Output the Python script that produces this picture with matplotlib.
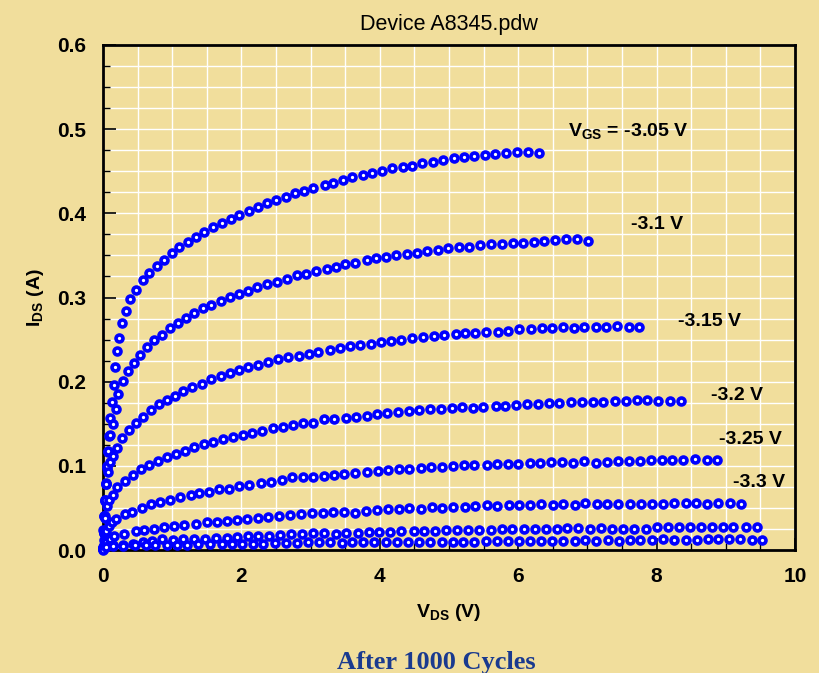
import matplotlib
matplotlib.use("Agg")
import matplotlib.pyplot as plt
from matplotlib.ticker import MultipleLocator

# I-V sweeps, (V_DS, I_DS) pairs per gate voltage
vgs_labels = ["V$_\\mathbf{GS}$ = -3.05 V", "-3.1 V", "-3.15 V", "-3.2 V", "-3.25 V", "-3.3 V"]
label_pos = [(6.72, 0.497), (7.63, 0.387), (8.31, 0.272), (8.79, 0.184), (8.9, 0.131), (9.1, 0.080)]

curve_305 = [(0.0, 0.003), (0.005, 0.024), (0.014, 0.040), (0.029, 0.058), (0.043, 0.078), (0.062, 0.097),
             (0.077, 0.117), (0.087, 0.136), (0.101, 0.157), (0.135, 0.176), (0.159, 0.196), (0.173, 0.218),
             (0.207, 0.236), (0.231, 0.252), (0.279, 0.270), (0.328, 0.284), (0.39, 0.298), (0.472, 0.309),
             (0.583, 0.321), (0.665, 0.329), (0.776, 0.338), (0.88, 0.345), (0.99, 0.3525), (1.103, 0.3596),
             (1.224, 0.3663), (1.344, 0.3722), (1.464, 0.3775), (1.594, 0.3834), (1.715, 0.3881), (1.85, 0.3936),
             (1.97, 0.3977), (2.11, 0.4028), (2.244, 0.4079), (2.374, 0.4119), (2.5, 0.4158), (2.645, 0.4198),
             (2.775, 0.4238), (2.909, 0.4269), (3.039, 0.4297), (3.208, 0.4337), (3.328, 0.4364), (3.473, 0.4396),
             (3.603, 0.4428), (3.762, 0.4455), (3.883, 0.4476), (4.027, 0.4506), (4.181, 0.4535), (4.331, 0.4554),
             (4.47, 0.4566), (4.614, 0.4594), (4.773, 0.4613), (4.918, 0.4634), (5.072, 0.4654), (5.217, 0.4673),
             (5.366, 0.4685), (5.52, 0.4696), (5.669, 0.4705), (5.819, 0.4713), (5.978, 0.4725), (6.142, 0.4725),
             (6.305, 0.4713)]

curve_310 = [(0.0, 0.002), (0.008, 0.020), (0.018, 0.040), (0.030, 0.060), (0.045, 0.080), (0.060, 0.100),
             (0.075, 0.118), (0.101, 0.137), (0.149, 0.150), (0.183, 0.167), (0.221, 0.185), (0.285, 0.201),
             (0.357, 0.213), (0.448, 0.222), (0.535, 0.232), (0.636, 0.241), (0.741, 0.2495), (0.848, 0.2554),
             (0.968, 0.2640), (1.079, 0.270), (1.199, 0.276), (1.315, 0.282), (1.44, 0.287), (1.561, 0.291),
             (1.70, 0.296), (1.835, 0.301), (1.97, 0.304), (2.09, 0.308), (2.23, 0.312), (2.374, 0.3157),
             (2.51, 0.3188), (2.655, 0.322), (2.808, 0.3264), (2.934, 0.3283), (3.078, 0.3315), (3.233, 0.3335),
             (3.363, 0.3366), (3.497, 0.3394), (3.642, 0.3413), (3.811, 0.3445), (3.945, 0.3466), (4.090, 0.3485),
             (4.234, 0.3505), (4.397, 0.3513), (4.533, 0.3532), (4.678, 0.3552), (4.837, 0.3564), (4.990, 0.3584),
             (5.145, 0.3596), (5.293, 0.3603), (5.448, 0.3624), (5.607, 0.3632), (5.766, 0.3632), (5.920, 0.3651),
             (6.065, 0.3651), (6.228, 0.3663), (6.373, 0.3671), (6.532, 0.3680), (6.686, 0.3691), (6.845, 0.3691),
             (7.013, 0.3675)]

curve_315 = [(0.0, 0.002), (0.010, 0.020), (0.022, 0.040), (0.035, 0.060), (0.050, 0.078), (0.070, 0.093),
             (0.100, 0.104), (0.140, 0.1117), (0.198, 0.1216), (0.279, 0.1327), (0.380, 0.1426), (0.477, 0.1505),
             (0.583, 0.1584), (0.694, 0.1663), (0.809, 0.1731), (0.920, 0.1782), (1.045, 0.1833), (1.160, 0.1893),
             (1.290, 0.1940), (1.426, 0.1972), (1.560, 0.2028), (1.700, 0.2067), (1.835, 0.2107), (1.970, 0.2139),
             (2.100, 0.2171), (2.244, 0.2198), (2.389, 0.2230), (2.524, 0.2266), (2.669, 0.2290), (2.828, 0.2308),
             (2.980, 0.2329), (3.111, 0.2356), (3.280, 0.2376), (3.425, 0.2396), (3.569, 0.2424), (3.714, 0.2436),
             (3.873, 0.2447), (4.013, 0.2468), (4.162, 0.2487), (4.306, 0.2495), (4.470, 0.2522), (4.620, 0.2534),
             (4.783, 0.2542), (4.923, 0.2554), (5.101, 0.2563), (5.231, 0.2575), (5.376, 0.2575), (5.535, 0.2586),
             (5.712, 0.2594), (5.857, 0.2602), (6.012, 0.2620), (6.181, 0.2628), (6.340, 0.2635), (6.484, 0.2640),
             (6.652, 0.2646), (6.806, 0.2634), (6.955, 0.2646), (7.120, 0.2646), (7.269, 0.2653), (7.432, 0.2665),
             (7.601, 0.2653), (7.746, 0.2653)]

curve_320 = [(0.0, 0.002), (0.012, 0.020), (0.030, 0.038), (0.055, 0.052), (0.090, 0.060), (0.140, 0.0653),
             (0.207, 0.0752), (0.318, 0.0823), (0.429, 0.0891), (0.549, 0.0959), (0.669, 0.1010), (0.799, 0.1061),
             (0.929, 0.1101), (1.055, 0.1141), (1.185, 0.1180), (1.319, 0.1220), (1.460, 0.1256), (1.594, 0.1287),
             (1.730, 0.1315), (1.883, 0.1346), (2.019, 0.1366), (2.158, 0.1394), (2.302, 0.1417), (2.452, 0.1446),
             (2.597, 0.1465), (2.750, 0.1481), (2.895, 0.1505), (3.039, 0.1513), (3.198, 0.1553), (3.338, 0.1553),
             (3.512, 0.1572), (3.652, 0.1584), (3.811, 0.1596), (3.964, 0.1616), (4.100, 0.1624), (4.259, 0.1636),
             (4.422, 0.1651), (4.571, 0.1660), (4.725, 0.1675), (4.884, 0.1675), (5.043, 0.1683), (5.192, 0.1695),
             (5.351, 0.1691), (5.496, 0.1703), (5.679, 0.1714), (5.809, 0.1714), (5.968, 0.1723), (6.131, 0.1735),
             (6.291, 0.1735), (6.445, 0.1743), (6.594, 0.1743), (6.759, 0.1755), (6.926, 0.1755), (7.085, 0.1762),
             (7.230, 0.1762), (7.399, 0.1770), (7.558, 0.1770), (7.712, 0.1782), (7.866, 0.1782), (8.025, 0.1770),
             (8.194, 0.1770), (8.348, 0.1770)]

curve_325 = [(0.0, 0.001), (0.015, 0.012), (0.040, 0.022), (0.080, 0.029), (0.125, 0.033), (0.183, 0.0368),
             (0.318, 0.0428), (0.423, 0.0455), (0.559, 0.0503), (0.689, 0.0547), (0.824, 0.0574), (0.968, 0.0594),
             (1.113, 0.0633), (1.267, 0.0653), (1.392, 0.0674), (1.536, 0.0693), (1.681, 0.0721), (1.825, 0.0728),
             (1.970, 0.0760), (2.114, 0.0772), (2.283, 0.0792), (2.423, 0.0811), (2.582, 0.0832), (2.727, 0.0864),
             (2.886, 0.0864), (3.039, 0.0871), (3.198, 0.0879), (3.338, 0.0891), (3.487, 0.0903), (3.642, 0.0911),
             (3.811, 0.0930), (3.970, 0.0942), (4.123, 0.0950), (4.282, 0.0962), (4.426, 0.0962), (4.591, 0.0971),
             (4.740, 0.0990), (4.903, 0.0982), (5.062, 0.0998), (5.221, 0.1006), (5.366, 0.1013), (5.545, 0.1010),
             (5.689, 0.1018), (5.848, 0.1018), (6.002, 0.1018), (6.171, 0.1034), (6.315, 0.1034), (6.470, 0.1042),
             (6.637, 0.1042), (6.796, 0.1037), (6.951, 0.1057), (7.120, 0.1037), (7.288, 0.1042), (7.447, 0.1057),
             (7.606, 0.1057), (7.760, 0.1057), (7.919, 0.1069), (8.074, 0.1069), (8.227, 0.1069), (8.386, 0.1069),
             (8.555, 0.1081), (8.724, 0.1069), (8.877, 0.1069)]

curve_330 = [(0.0, 0.001), (0.020, 0.006), (0.050, 0.010), (0.100, 0.013), (0.163, 0.0166), (0.308, 0.0190),
             (0.473, 0.0222), (0.592, 0.0238), (0.737, 0.0246), (0.882, 0.0277), (1.026, 0.0285), (1.175, 0.0301),
             (1.340, 0.0309), (1.499, 0.0329), (1.643, 0.0336), (1.788, 0.0348), (1.932, 0.0356), (2.085, 0.0368),
             (2.244, 0.0384), (2.389, 0.0396), (2.548, 0.0408), (2.702, 0.0416), (2.861, 0.0424), (3.016, 0.0443),
             (3.184, 0.0443), (3.319, 0.0455), (3.483, 0.0455), (3.642, 0.0443), (3.800, 0.0463), (3.955, 0.0475),
             (4.114, 0.0483), (4.282, 0.0483), (4.426, 0.0495), (4.591, 0.0487), (4.750, 0.0507), (4.903, 0.0503),
             (5.062, 0.0514), (5.231, 0.0514), (5.376, 0.0526), (5.545, 0.0535), (5.689, 0.0526), (5.872, 0.0535),
             (6.017, 0.0535), (6.171, 0.0535), (6.325, 0.0547), (6.498, 0.0535), (6.652, 0.0547), (6.821, 0.0535),
             (6.965, 0.0555), (7.134, 0.0547), (7.288, 0.0547), (7.447, 0.0547), (7.616, 0.0547), (7.775, 0.0547),
             (7.939, 0.0547), (8.098, 0.0547), (8.256, 0.0562), (8.420, 0.0562), (8.569, 0.0562), (8.733, 0.0547),
             (8.892, 0.0562), (9.061, 0.0562), (9.215, 0.0547)]

curve_335 = [(0.0, 0.001), (0.030, 0.004), (0.149, 0.0059), (0.293, 0.0059), (0.438, 0.0068), (0.583, 0.0099),
             (0.704, 0.0110), (0.848, 0.0127), (1.007, 0.0119), (1.160, 0.0127), (1.319, 0.0127), (1.474, 0.0127),
             (1.633, 0.0139), (1.788, 0.0139), (1.932, 0.0158), (2.091, 0.0166), (2.244, 0.0170), (2.403, 0.0170),
             (2.558, 0.0178), (2.717, 0.0190), (2.871, 0.0190), (3.039, 0.0198), (3.198, 0.0206), (3.363, 0.0190),
             (3.512, 0.0206), (3.680, 0.0206), (3.844, 0.0210), (3.993, 0.0218), (4.147, 0.0218), (4.306, 0.0226),
             (4.494, 0.0226), (4.643, 0.0226), (4.798, 0.0226), (4.957, 0.0238), (5.120, 0.0238), (5.279, 0.0238),
             (5.438, 0.0238), (5.603, 0.0238), (5.761, 0.0246), (5.906, 0.0246), (6.088, 0.0246), (6.243, 0.0246),
             (6.402, 0.0246), (6.556, 0.0246), (6.710, 0.0258), (6.868, 0.0258), (7.038, 0.0250), (7.197, 0.0258),
             (7.360, 0.0250), (7.510, 0.0250), (7.678, 0.0250), (7.847, 0.0250), (8.010, 0.0270), (8.160, 0.0270),
             (8.328, 0.0270), (8.483, 0.0270), (8.642, 0.0270), (8.796, 0.0270), (8.964, 0.0270), (9.108, 0.0270),
             (9.292, 0.0270), (9.447, 0.0270)]

curve_340 = [(0.0, 0.0), (0.040, 0.003), (0.149, 0.0048), (0.293, 0.0048), (0.462, 0.0059), (0.617, 0.0059),
             (0.751, 0.0059), (0.920, 0.0059), (1.065, 0.0059), (1.218, 0.0059), (1.377, 0.0068), (1.546, 0.0068),
             (1.715, 0.0071), (1.860, 0.0071), (2.004, 0.0071), (2.163, 0.0068), (2.317, 0.0071), (2.486, 0.0079),
             (2.640, 0.0079), (2.799, 0.0087), (2.967, 0.0091), (3.121, 0.0091), (3.280, 0.0099), (3.449, 0.0087),
             (3.594, 0.0099), (3.762, 0.0091), (3.920, 0.0099), (4.090, 0.0099), (4.244, 0.0091), (4.403, 0.0099),
             (4.571, 0.0099), (4.725, 0.0099), (4.894, 0.0099), (5.053, 0.0099), (5.207, 0.0099), (5.361, 0.0099),
             (5.535, 0.0110), (5.689, 0.0110), (5.857, 0.0110), (6.012, 0.0110), (6.171, 0.0110), (6.325, 0.0110),
             (6.484, 0.0110), (6.652, 0.0110), (6.821, 0.0110), (6.965, 0.0119), (7.124, 0.0110), (7.293, 0.0119),
             (7.457, 0.0110), (7.616, 0.0119), (7.760, 0.0119), (7.929, 0.0119), (8.097, 0.0131), (8.251, 0.0119),
             (8.420, 0.0119), (8.579, 0.0119), (8.738, 0.0131), (8.892, 0.0131), (9.051, 0.0131), (9.205, 0.0131),
             (9.374, 0.0119), (9.527, 0.0119)]

curves = [curve_305, curve_310, curve_315, curve_320, curve_325, curve_330, curve_335, curve_340]

x_ticks = [0, 2, 4, 6, 8, 10]
y_ticks = [0.0, 0.1, 0.2, 0.3, 0.4, 0.5, 0.6]

bg = "#F1DE9C"
plt.rcParams["font.family"] = ["Liberation Sans", "DejaVu Sans"]
plt.rcParams["mathtext.fontset"] = "custom"
plt.rcParams["mathtext.rm"] = "Liberation Sans"
plt.rcParams["mathtext.bf"] = "Liberation Sans:bold"

fig = plt.figure(figsize=(8.19, 6.73), dpi=100, facecolor=bg)
ax = fig.add_axes([103 / 819, 1 - 550 / 673, 692 / 819, 505 / 673], facecolor=bg)

for c in curves:
    vs = [p[0] for p in c]
    ids = [p[1] for p in c]
    ax.plot(vs, ids, linestyle="none", marker="o", markersize=5.0, markeredgewidth=2.6,
            markeredgecolor="#0000FF", markerfacecolor="white", clip_on=False, zorder=5)

for txt, (x, y) in zip(vgs_labels, label_pos):
    ax.text(x, y, txt, fontsize=14, fontweight="bold", ha="left", va="center", zorder=6)

ax.set_xlim(0, 10)
ax.set_ylim(0, 0.6)
ax.set_xticks(x_ticks)
ax.set_yticks(y_ticks)
ax.set_yticklabels([f"{t:.1f}" for t in y_ticks])
ax.xaxis.set_minor_locator(MultipleLocator(0.5))
ax.yaxis.set_minor_locator(MultipleLocator(0.025))
ax.grid(True, which="both", color="white", linewidth=1.0, zorder=0)
ax.set_axisbelow(True)
ax.tick_params(which="major", direction="in", length=9, width=1.2, labelsize=15, pad=12)
ax.tick_params(which="minor", direction="in", length=5, width=1.0)
for lbl in ax.get_xticklabels() + ax.get_yticklabels():
    lbl.set_fontweight("bold")
for s in ax.spines.values():
    s.set_linewidth(2.0)

ax.set_xlabel(r"V$_\mathbf{DS}$ (V)", fontsize=14, fontweight="bold", labelpad=12)
ax.set_ylabel(r"I$_\mathbf{DS}$ (A)", fontsize=14, fontweight="bold", labelpad=8)
ax.set_title("Device A8345.pdw", fontsize=15.5, pad=11)

fig.text(0.533, 1 - 662 / 673, "After 1000 Cycles", family="Liberation Serif", fontweight="bold",
         fontsize=19, color="#1A3A8F", ha="center", va="center")

fig.savefig("out.png", dpi=100, facecolor=bg)
